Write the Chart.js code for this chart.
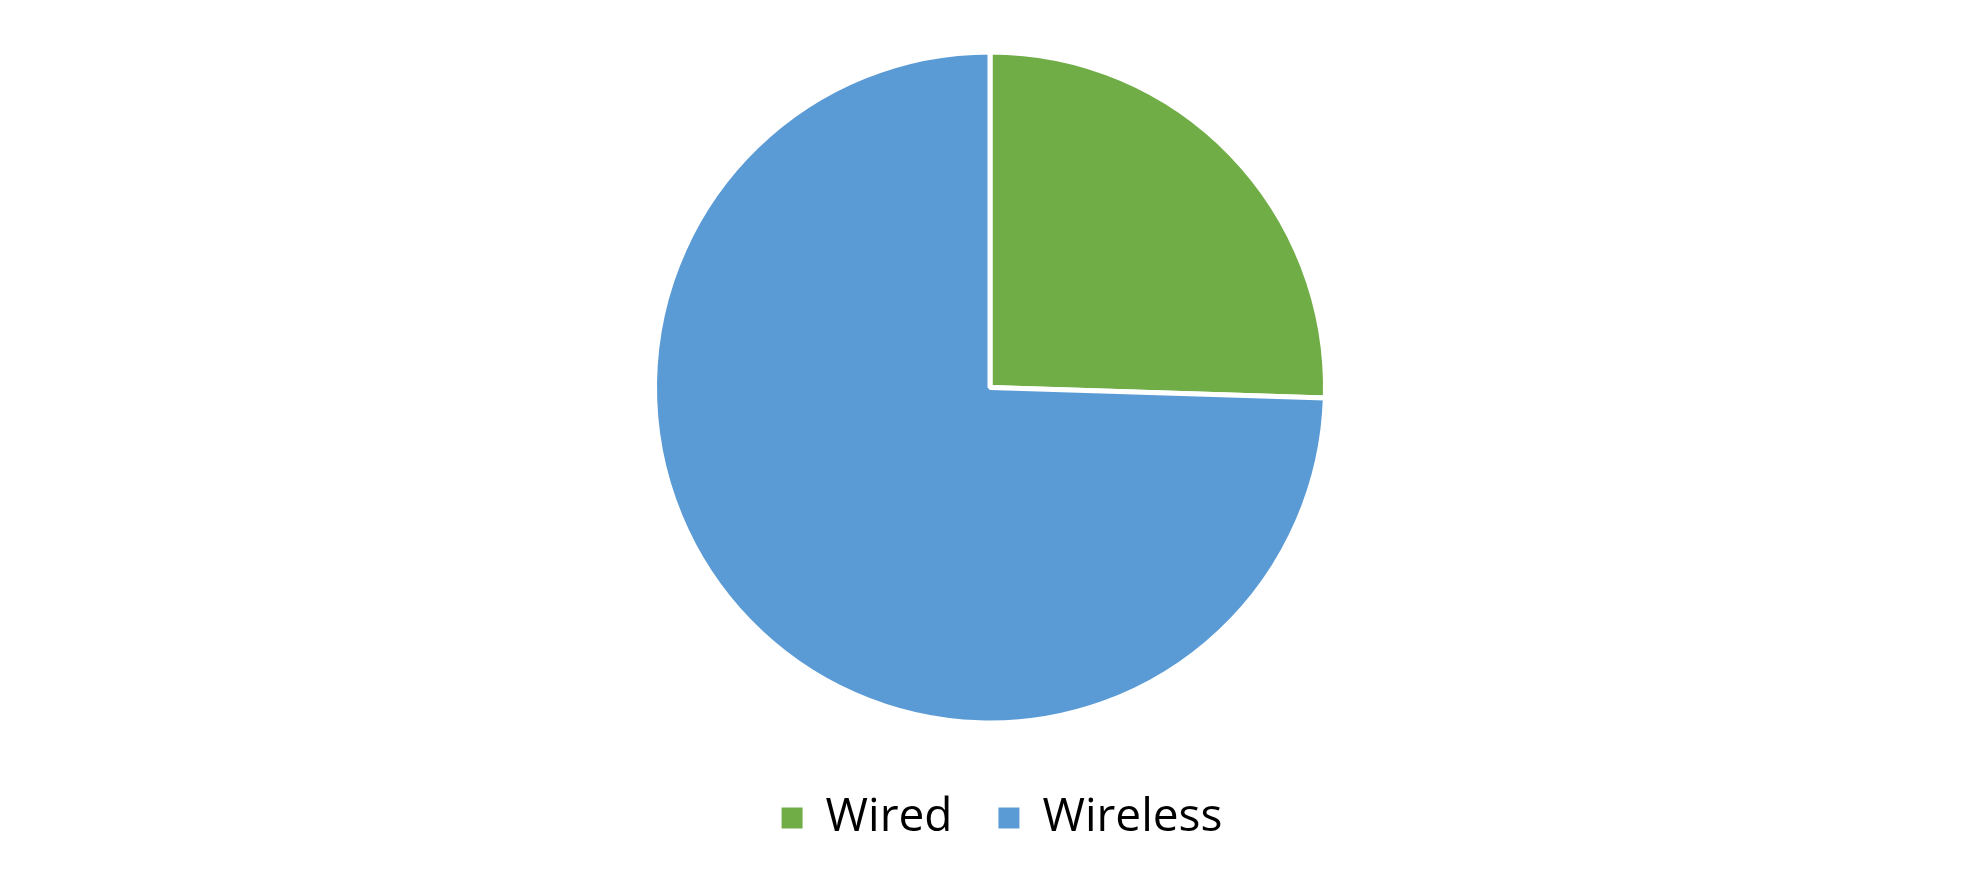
<!DOCTYPE html>
<html>
<head>
<meta charset="utf-8">
<script src="https://cdn.jsdelivr.net/npm/chart.js@4.4.1/dist/chart.umd.min.js"></script>
<style>
  html, body { margin: 0; padding: 0; background: #fff; }
  #wrap { width: 1980px; height: 890px; position: relative; }
</style>
</head>
<body>
<div id="wrap"><canvas id="pie"></canvas></div>
<script>
// ── Data ─────────────────────────────────────────────────
const labels = ["Wired", "Wireless"];
const shares = [25.5, 74.5];
const colors = ["#70AD47", "#5B9BD5"];

// legend sits a little right of the pie centre in the original
const nudgeLegend = {
  id: "nudgeLegend",
  afterLayout(chart) {
    const lg = chart.legend;
    if (!lg) return;
    lg.left += 12;
    lg.right += 12;
  },
};

// ── Chart ────────────────────────────────────────────────
const ctx = document.getElementById("pie").getContext("2d");
new Chart(ctx, {
  type: "pie",
  data: {
    labels,
    datasets: [{
      data: shares,
      backgroundColor: colors,
      borderColor: "#fff",
      borderWidth: 5,
      hoverOffset: 0,
    }],
  },
  plugins: [nudgeLegend],
  options: {
    responsive: true,
    maintainAspectRatio: false,
    animation: false,
    layout: { padding: { top: 26, bottom: 39, left: 652, right: 652 } },
    plugins: {
      tooltip: { enabled: false },
      legend: {
        position: "bottom",
        labels: {
          boxWidth: 21,
          boxHeight: 21,
          padding: 46,
          color: "#000",
          font: { family: "'Open Sans', sans-serif", size: 46 },
          // no white outline round the legend squares
          generateLabels: (chart) =>
            Chart.overrides.pie.plugins.legend.labels
              .generateLabels(chart)
              .map((it) => ({ ...it, lineWidth: 0 })),
        },
      },
    },
  },
});
</script>
</body>
</html>
